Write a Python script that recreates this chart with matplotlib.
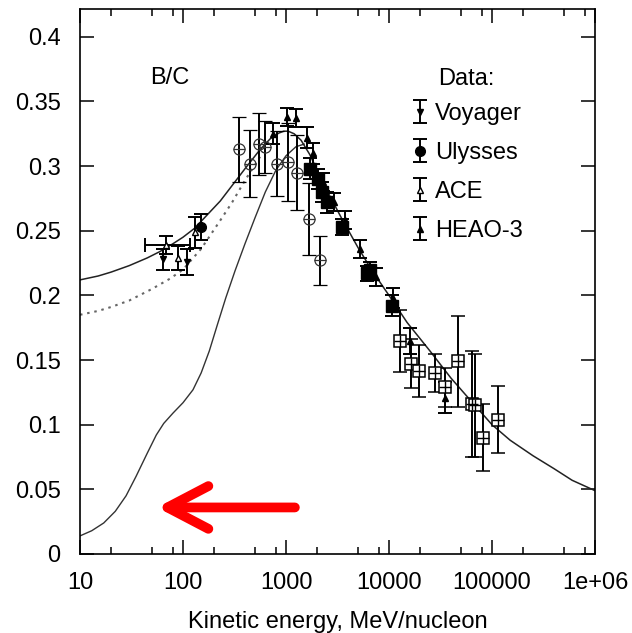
import matplotlib
matplotlib.use("Agg")
import matplotlib.pyplot as plt
from matplotlib.ticker import LogLocator, FixedLocator, FixedFormatter, NullFormatter

plt.rcParams['font.family'] = ['Liberation Sans', 'DejaVu Sans']
plt.rcParams['font.size'] = 17

# ---- propagation model curves (kinetic energy MeV/n, B/C) ----
mod_E = [10, 15, 20, 30, 45, 60, 80, 100, 130, 180, 230, 300, 400, 550, 700, 850, 950,
         1050, 1200, 1400, 1700, 2000, 2500, 3500, 5000, 7000, 10000, 15000, 25000, 40000,
         60000, 100000, 150000, 250000, 400000, 600000, 1000000]
mod_bc = [0.212, 0.215, 0.218, 0.223, 0.229, 0.234, 0.240, 0.245, 0.252, 0.264, 0.273,
          0.285, 0.298, 0.312, 0.321, 0.3255, 0.327, 0.327, 0.325, 0.320, 0.309, 0.297,
          0.281, 0.259, 0.237, 0.218, 0.200, 0.179, 0.157, 0.136, 0.120, 0.100, 0.088,
          0.076, 0.066, 0.057, 0.049]

mod2_E = [10, 15, 20, 30, 50, 75, 100, 150, 230, 300, 400, 500, 600]
mod2_bc = [0.185, 0.188, 0.191, 0.196, 0.205, 0.213, 0.220, 0.236, 0.258, 0.272, 0.289,
           0.301, 0.311]

lis_E = [10, 13, 17, 22, 28, 35, 45, 55, 65, 80, 100, 125, 150, 180, 215, 260, 320, 400,
         500, 630, 800, 1000, 1250, 1500]
lis_bc = [0.014, 0.018, 0.024, 0.033, 0.045, 0.060, 0.078, 0.092, 0.101, 0.109, 0.117,
          0.127, 0.140, 0.157, 0.177, 0.198, 0.219, 0.240, 0.260, 0.280, 0.297, 0.308,
          0.315, 0.317]

# ---- measurements ----
voy_E = [64, 109]
voy_bc = [0.228, 0.226]
voy_err = [0.008, 0.010]

uly_E = [150]
uly_bc = [0.253]
uly_err = [0.010]

ace_E = [69, 89, 131]
ace_bc = [0.239, 0.229, 0.249]
ace_err = [0.007, 0.009, 0.012]
ace_xlo = [26, 0, 0]
ace_xhi = [48, 0, 0]

heao_E = [746, 1030, 1250, 1590, 1845, 2300, 2900, 3700, 5260, 7500, 11000, 16000, 35000]
heao_bc = [0.325, 0.338, 0.337, 0.322, 0.310, 0.288, 0.272, 0.258, 0.236, 0.214,
           0.198, 0.165, 0.121]
heao_err = [0.008, 0.007, 0.007, 0.008, 0.008, 0.007, 0.007, 0.007, 0.007, 0.007,
            0.008, 0.010, 0.012]

sq_E = [1715, 2060, 2240, 2520, 3480, 6070, 6600, 10600]
sq_bc = [0.298, 0.290, 0.280, 0.272, 0.253, 0.217, 0.220, 0.192]
sq_err = [0.008, 0.008, 0.008, 0.008, 0.006, 0.006, 0.006, 0.008]

osq_E = [12800, 16500, 19700, 28000, 35000, 46700, 63500, 68000, 81000, 114000]
osq_bc = [0.165, 0.147, 0.1415, 0.140, 0.129, 0.149, 0.116, 0.115, 0.090, 0.104]
osq_err = [0.024, 0.019, 0.020, 0.015, 0.015, 0.035, 0.041, 0.040, 0.026, 0.026]

ocir_E = [352, 446, 552, 624, 812, 1055, 1283, 1684, 2147]
ocir_bc = [0.313, 0.302, 0.317, 0.315, 0.302, 0.303, 0.295, 0.259, 0.227]
ocir_err = [0.025, 0.026, 0.024, 0.020, 0.025, 0.030, 0.029, 0.028, 0.019]

xtick_vals = [10, 100, 1000, 10000, 100000, 1000000]
xtick_labels = ['10', '100', '1000', '10000', '100000', '1e+06']
ytick_vals = [0, 0.05, 0.1, 0.15, 0.2, 0.25, 0.3, 0.35, 0.4]
ytick_labels = ['0', '0.05', '0.1', '0.15', '0.2', '0.25', '0.3', '0.35', '0.4']

fig = plt.figure(figsize=(6.32, 6.33), dpi=100)
ax = fig.add_axes([80 / 632, 1 - 554 / 633, 515 / 632, 545 / 633])
ax.set_xscale('log')
ax.set_xlim(10, 1e6)
ax.set_ylim(0, 0.4215)

# model curves
ax.plot(lis_E, lis_bc, color='#333333', lw=1.0, zorder=2)
ax.plot(mod2_E, mod2_bc, color='#666666', lw=1.5, ls=(0, (1.2, 2.3)), zorder=2)
ax.plot(mod_E, mod_bc, color='#222222', lw=1.1, zorder=2)

eb = dict(ecolor='k', elinewidth=1.4, capsize=5, capthick=1.4, ls='none', zorder=3)

# unlabelled data sets
ax.errorbar(ocir_E, ocir_bc, yerr=ocir_err, fmt='o', ms=8, mfc='none', mec='#333333',
            mew=0.9, **eb)
ax.plot(ocir_E, ocir_bc, '_', ms=8, color='#333333', mew=0.9, zorder=3)
ax.errorbar(osq_E, osq_bc, yerr=osq_err, fmt='s', ms=8, mfc='white', mec='k', mew=1.1, **eb)
ax.plot(osq_E, osq_bc, '+', ms=8, color='k', mew=1.0, zorder=4)
ax.errorbar(sq_E, sq_bc, yerr=sq_err, fmt='s', ms=8, mfc='k', mec='k', **eb)

# labelled data sets
h_voy = ax.errorbar(voy_E, voy_bc, yerr=voy_err, fmt='v', ms=4, mfc='k', mec='k',
                    label='Voyager', **eb)
h_uly = ax.errorbar(uly_E, uly_bc, yerr=uly_err, fmt='o', ms=7, mfc='k', mec='k',
                    label='Ulysses', **eb)
ax.errorbar(ace_E, ace_bc, xerr=[ace_xlo, ace_xhi], fmt='none', **eb)
h_ace = ax.errorbar(ace_E, ace_bc, yerr=ace_err, fmt='^', ms=5, mfc='white', mec='k',
                    label='ACE', **eb)
h_heao = ax.errorbar(heao_E, heao_bc, yerr=heao_err, fmt='^', ms=4, mfc='k', mec='k',
                     label='HEAO-3', **eb)

# axes styling
for s in ax.spines.values():
    s.set_linewidth(1.2)
ax.xaxis.set_major_locator(FixedLocator(xtick_vals))
ax.xaxis.set_major_formatter(FixedFormatter(xtick_labels))
ax.xaxis.set_minor_locator(LogLocator(base=10, subs=[2, 5, 8]))
ax.xaxis.set_minor_formatter(NullFormatter())
ax.yaxis.set_major_locator(FixedLocator(ytick_vals))
ax.yaxis.set_major_formatter(FixedFormatter(ytick_labels))
ax.tick_params(which='major', direction='in', length=10, width=1.1, top=True, right=True,
               labelsize=17)
ax.tick_params(which='minor', direction='in', length=5, width=1.1, top=True, right=True)
ax.tick_params(axis='x', pad=13)
ax.tick_params(axis='y', pad=14)
ax.set_xlabel('Kinetic energy, MeV/nucleon', fontsize=17, labelpad=12)

ax.text(0.175, 0.874, 'B/C', transform=ax.transAxes, ha='center', va='center', fontsize=17)
ax.text(0.695, 0.872, 'Data:', transform=ax.transAxes, ha='left', va='center', fontsize=17)

leg = ax.legend(handles=[h_voy, h_uly, h_ace, h_heao], loc='upper left',
                bbox_to_anchor=(0.63, 0.845), frameon=False, fontsize=17,
                handlelength=0.5, handletextpad=0.4, labelspacing=0.72, borderaxespad=0)

# highlight arrow toward the low-energy region
ax.annotate('', xy=(56, 0.036), xytext=(1220, 0.036),
            arrowprops=dict(arrowstyle='->,head_length=1.05,head_width=0.55', lw=7,
                            color='#ff0000', mutation_scale=28, shrinkA=0, shrinkB=0,
                            capstyle='round', joinstyle='round'),
            zorder=5)

fig.savefig('out.png', dpi=100)
